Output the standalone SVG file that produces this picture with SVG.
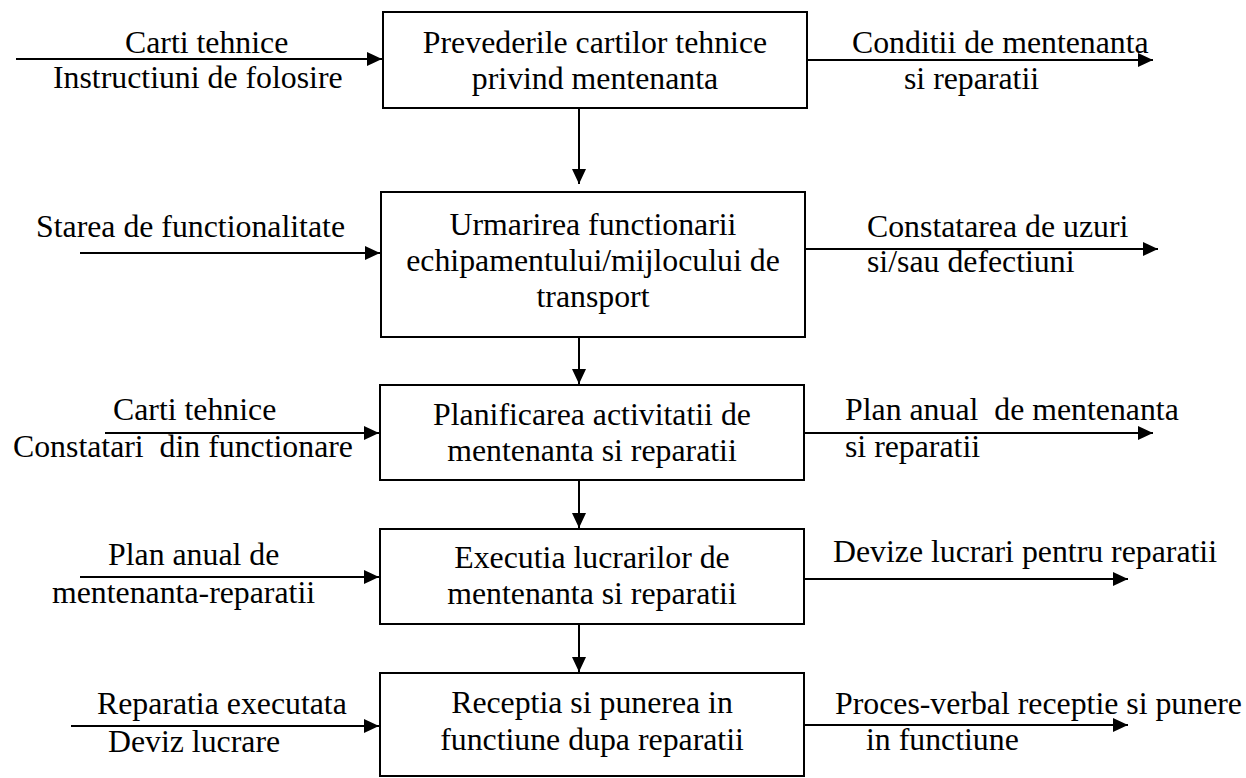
<svg xmlns="http://www.w3.org/2000/svg" width="1246" height="778" viewBox="0 0 1246 778">
<style>
text{font-family:"Liberation Serif","Times New Roman",serif;font-size:31.8px;fill:#000;white-space:pre}
.c{text-anchor:middle}
.box{fill:#fff;stroke:#000;stroke-width:2}
.ln{stroke:#000;stroke-width:2;fill:none;marker-end:url(#ah)}
</style>
<defs>
<marker id="ah" markerUnits="userSpaceOnUse" markerWidth="16" markerHeight="15" refX="15" refY="7" orient="auto">
<path d="M0,0 L15,7 L0,14 z" fill="#000"/>
</marker>
</defs>
<rect width="1246" height="778" fill="#fff"/>
<g id="connectors">
<line class="ln" x1="16" y1="59" x2="382" y2="59"/>
<line class="ln" x1="807" y1="60" x2="1153" y2="60"/>
<line class="ln" x1="579" y1="108" x2="579" y2="184"/>
<line class="ln" x1="80" y1="253" x2="380" y2="253"/>
<line class="ln" x1="805" y1="249" x2="1158" y2="249"/>
<line class="ln" x1="579" y1="337" x2="579" y2="384"/>
<line class="ln" x1="105" y1="433" x2="379" y2="433"/>
<line class="ln" x1="804" y1="433" x2="1153" y2="433"/>
<line class="ln" x1="579" y1="480" x2="579" y2="528"/>
<line class="ln" x1="80" y1="577" x2="379" y2="577"/>
<line class="ln" x1="804" y1="579" x2="1128" y2="579"/>
<line class="ln" x1="579" y1="624" x2="579" y2="672"/>
<line class="ln" x1="71" y1="726" x2="379" y2="726"/>
<line class="ln" x1="804" y1="725" x2="1128" y2="725"/>
</g>
<g id="labels">
<text x="125" y="53">Carti tehnice</text>
<text x="53" y="88">Instructiuni de folosire</text>
<text x="852" y="53">Conditii de mentenanta</text>
<text x="904" y="89">si reparatii</text>
<text x="36" y="237">Starea de functionalitate</text>
<text x="867" y="237">Constatarea de uzuri</text>
<text x="867" y="272">si/sau defectiuni</text>
<text x="113" y="420">Carti tehnice</text>
<text x="13" y="457" xml:space="preserve">Constatari  din functionare</text>
<text x="845" y="420" xml:space="preserve">Plan anual  de mentenanta</text>
<text x="845" y="457">si reparatii</text>
<text x="108" y="565">Plan anual de</text>
<text x="52" y="603">mentenanta-reparatii</text>
<text x="833" y="562">Devize lucrari pentru reparatii</text>
<text x="97" y="714">Reparatia executata</text>
<text x="108" y="752">Deviz lucrare</text>
<text x="835" y="714">Proces-verbal receptie si punere</text>
<text x="866" y="750">in functiune</text>
</g>
<g id="n1">
<rect class="box" x="383" y="12" width="424" height="96"/>
<text class="c" x="595" y="53">Prevederile cartilor tehnice</text>
<text class="c" x="595" y="89">privind mentenanta</text>
</g>
<g id="n2">
<rect class="box" x="381" y="192" width="424" height="145"/>
<text class="c" x="593" y="235">Urmarirea functionarii</text>
<text class="c" x="593" y="271">echipamentului/mijlocului de</text>
<text class="c" x="593" y="307">transport</text>
</g>
<g id="n3">
<rect class="box" x="380" y="385" width="424" height="95"/>
<text class="c" x="592" y="425">Planificarea activitatii de</text>
<text class="c" x="592" y="461">mentenanta si reparatii</text>
</g>
<g id="n4">
<rect class="box" x="380" y="529" width="424" height="95"/>
<text class="c" x="592" y="568">Executia lucrarilor de</text>
<text class="c" x="592" y="604">mentenanta si reparatii</text>
</g>
<g id="n5">
<rect class="box" x="380" y="673" width="424" height="103"/>
<text class="c" x="592" y="713">Receptia si punerea in</text>
<text class="c" x="592" y="750">functiune dupa reparatii</text>
</g>
</svg>
